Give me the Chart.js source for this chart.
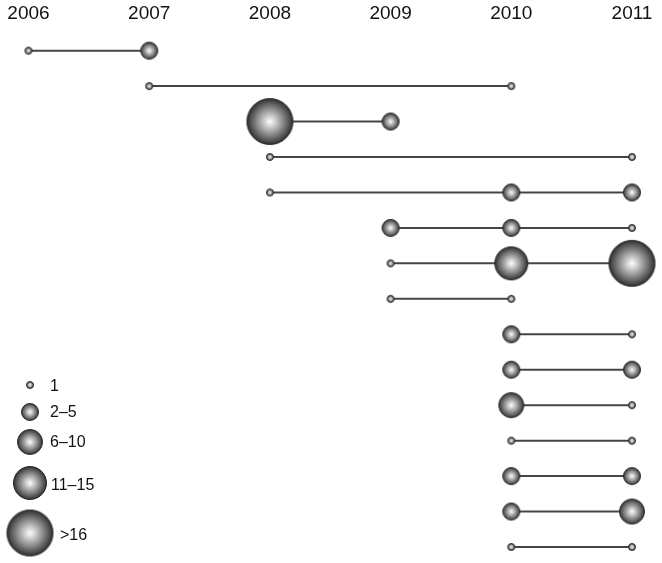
<!DOCTYPE html>
<html>
<head>
<meta charset="utf-8">
<script src="https://cdn.jsdelivr.net/npm/chart.js@4.4.0/dist/chart.umd.min.js"></script>
<style>
  html, body { margin: 0; padding: 0; background: #fff; }
  #wrap { width: 662px; height: 563px; }
</style>
</head>
<body>
<div id="wrap"><canvas id="chart" width="662" height="563"></canvas></div>
<script>
// x axis years
const years = [2006, 2007, 2008, 2009, 2010, 2011];

// size classes (legend)
const sizeLabels = ["1", "2\u20135", "6\u201310", "11\u201315", ">16"];

// one entry per row: the years it appears in ...
const rowYears = [
    [2006, 2007],
    [2007, 2010],
    [2008, 2009],
    [2008, 2011],
    [2008, 2010, 2011],
    [2009, 2010, 2011],
    [2009, 2010, 2011],
    [2009, 2010],
    [2010, 2011],
    [2010, 2011],
    [2010, 2011],
    [2010, 2011],
    [2010, 2011],
    [2010, 2011],
    [2010, 2011]
];

// ... and the size class (index into sizeLabels) at each of those years
const rowSizes = [
    [0, 1],
    [0, 0],
    [4, 1],
    [0, 0],
    [0, 1, 1],
    [1, 1, 0],
    [0, 3, 4],
    [0, 0],
    [1, 0],
    [1, 1],
    [2, 0],
    [0, 0],
    [1, 1],
    [1, 2],
    [0, 0]
];

// styling
const classRadius = [4, 9, 13, 17, 23.5];
const FONT = "'Liberation Sans', Arial, Helvetica, sans-serif";

function makeSphere(r) {
    const s = Math.ceil(2 * r + 2);
    const c = document.createElement("canvas");
    c.width = s;
    c.height = s;
    const g2 = c.getContext("2d");
    const m = s / 2;
    const grad = g2.createRadialGradient(m, m, 0, m, m, r);
    grad.addColorStop(0, "#ffffff");
    grad.addColorStop(0.12, "#e6e6e6");
    grad.addColorStop(0.5, "#979797");
    grad.addColorStop(0.85, "#4d4d4d");
    grad.addColorStop(1, "#262626");
    g2.beginPath();
    g2.arc(m, m, r - 0.5, 0, Math.PI * 2);
    g2.fillStyle = grad;
    g2.fill();
    g2.lineWidth = 1;
    g2.strokeStyle = "#2b2b2b";
    g2.stroke();
    return c;
}
const spheres = classRadius.map(makeSphere);

const datasets = rowYears.map((ys, i) => ({
    data: ys.map((y, j) => ({ x: y, y: i + 1, c: rowSizes[i][j] })),
    showLine: true,
    borderColor: "#454545",
    borderWidth: 2,
    clip: false,
    pointStyle: ctx => spheres[ctx.raw.c],
    pointRadius: ctx => classRadius[ctx.raw.c],
    pointHoverRadius: ctx => classRadius[ctx.raw.c]
}));

// legend drawn bottom-left, spheres stacked with their labels
const sizeLegend = {
    id: "sizeLegend",
    afterDraw(chart) {
        const ctx = chart.ctx;
        const cy = [385, 412, 442, 483, 533];
        const tx = [50, 50, 50, 51, 60];
        const ty = [386.5, 413, 442.5, 486, 536];
        ctx.save();
        ctx.font = "16px " + FONT;
        ctx.fillStyle = "#111";
        ctx.textBaseline = "middle";
        ctx.textAlign = "left";
        sizeLabels.forEach((lab, i) => {
            const img = spheres[i];
            ctx.drawImage(img, 30 - img.width / 2, cy[i] - img.height / 2);
            ctx.fillText(lab, tx[i], ty[i]);
        });
        ctx.restore();
    }
};

new Chart(document.getElementById("chart"), {
    type: "scatter",
    data: { datasets: datasets },
    options: {
        responsive: false,
        animation: false,
        layout: { autoPadding: false, padding: { left: 28.5, right: 30, top: 2.3, bottom: 16 } },
        plugins: {
            legend: { display: false },
            tooltip: { enabled: false }
        },
        scales: {
            x: {
                type: "linear",
                position: "top",
                min: years[0],
                max: years[years.length - 1],
                afterBuildTicks: axis => { axis.ticks = years.map(v => ({ value: v })); },
                grid: { display: false, drawTicks: false },
                border: { display: false },
                ticks: {
                    padding: 0,
                    color: "#111",
                    font: { family: FONT, size: 19 },
                    callback: v => String(v)
                }
            },
            y: {
                type: "linear",
                display: false,
                reverse: true,
                // headroom above the first row, below the year labels
                min: 0.28,
                max: rowYears.length
            }
        }
    },
    plugins: [sizeLegend]
});
</script>
</body>
</html>
